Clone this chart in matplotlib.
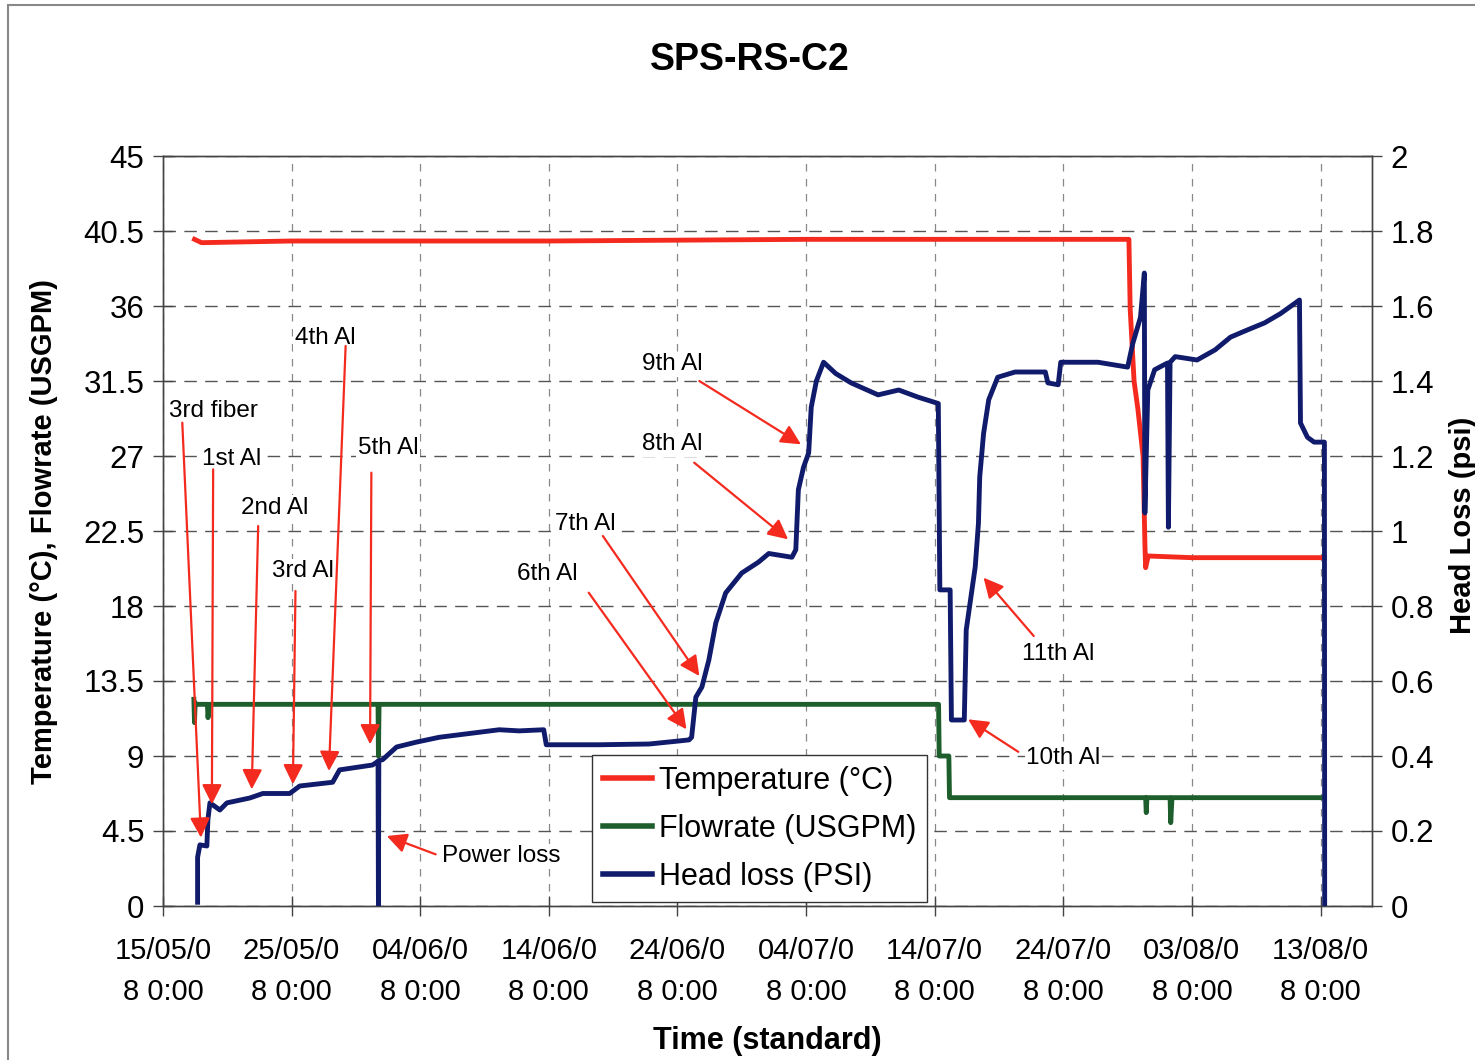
import numpy as np
import matplotlib
matplotlib.use('Agg')
import matplotlib.pyplot as plt
import matplotlib.dates as mdates
from matplotlib.ticker import FuncFormatter, FixedLocator
from matplotlib.lines import Line2D
from matplotlib.patches import Rectangle
import pandas as pd

plt.rcParams['font.family'] = ['Liberation Sans', 'DejaVu Sans']

start = pd.Timestamp('2008-05-15 00:00')

# days since 15/05/08 0:00 and values
temp_days = [2.45, 3.0, 10.0, 30.0, 50.0, 75.1, 75.2, 75.5, 75.8, 76.2, 76.35, 76.4, 76.6, 80.0, 90.3]
temp_vals = [40.0, 39.8, 39.9, 39.9, 40.0, 40.0, 35.8, 31.5, 29.8, 27.0, 21.5, 20.3, 21.0, 20.9, 20.9]

flow_days = [2.4, 2.45, 2.5, 2.55, 3.45, 3.5, 3.6, 16.72, 16.75, 16.8, 60.3, 60.35, 61.1, 61.15,
             76.4, 76.45, 76.5, 78.3, 78.35, 78.45, 90.3]
flow_vals = [12.4, 11.0, 12.2, 12.1, 12.1, 11.3, 12.1, 12.1, 9.0, 12.1, 12.1, 9.0, 9.0, 6.5,
             6.5, 5.6, 6.5, 6.5, 5.0, 6.5, 6.5]

head_days = [2.69, 2.69, 2.87, 3.41, 3.49, 3.65, 4.42, 4.97, 6.75, 7.76, 9.85, 10.63, 13.19, 13.73,
             16.29, 16.68, 16.72, 16.75, 16.78, 17.07, 18.16, 19.7, 21.49, 23.82, 26.14, 27.7, 29.6,
             29.8, 33.9, 37.8, 40.1, 40.9, 41.1, 41.43, 41.9, 42.44, 42.98, 43.75, 45.0, 46.3, 47.1,
             48.9, 49.2, 49.4, 49.8, 50.2, 50.4, 50.8, 51.36, 52.3, 53.5, 55.6, 57.2, 58.7, 60.28,
             60.4, 61.2, 61.3, 62.3, 62.45, 63.15, 63.4, 63.5, 63.8, 64.2, 64.9, 66.25, 68.6, 68.8,
             69.6, 69.8, 72.7, 75.0, 75.4, 76.0, 76.3, 76.34, 76.57, 77.1, 78.1, 78.17, 78.3, 78.7,
             80.4, 81.8, 83.0, 84.3, 85.65, 86.9, 88.36, 88.44, 88.98, 89.5, 90.3, 90.32]
head_vals = [0.01, 0.13, 0.163, 0.16, 0.23, 0.275, 0.256, 0.275, 0.288, 0.30, 0.30, 0.32, 0.33, 0.363,
             0.376, 0.385, 0.385, 0.0, 0.388, 0.39, 0.424, 0.437, 0.45, 0.46, 0.47, 0.467, 0.47,
             0.43, 0.43, 0.432, 0.44, 0.443, 0.45, 0.557, 0.584, 0.656, 0.755, 0.835, 0.888, 0.917, 0.94,
             0.93, 0.95, 1.11, 1.17, 1.208, 1.33, 1.40, 1.45, 1.42, 1.395, 1.363, 1.376, 1.357, 1.34,
             0.843, 0.843, 0.496, 0.496, 0.736, 0.904, 1.02, 1.144, 1.26, 1.35, 1.41, 1.424, 1.424, 1.395,
             1.39, 1.45, 1.45, 1.437, 1.50, 1.57, 1.688, 1.048, 1.376, 1.43, 1.448, 1.01, 1.45, 1.465,
             1.456, 1.483, 1.517, 1.536, 1.555, 1.58, 1.616, 1.288, 1.25, 1.237, 1.237, 0.0]

# annotations: label, text pos (day, left-axis value), arrow start, arrow tip
notes = [
    ('3rd fiber', (3.9, 29.7), (1.5, 29.0), (2.95, 4.1)),
    ('1st Al', (5.3, 26.8), (3.9, 26.2), (3.8, 6.1)),
    ('2nd Al', (8.7, 23.9), (7.4, 22.8), (6.9, 7.0)),
    ('3rd Al', (10.9, 20.1), (10.3, 18.9), (10.1, 7.3)),
    ('4th Al', (12.6, 34.1), (14.2, 33.6), (12.9, 8.1)),
    ('5th Al', (17.5, 27.5), (16.2, 26.0), (16.1, 9.7)),
    ('Power loss', (26.3, 3.0), (21.2, 3.1), (17.4, 4.2)),
    ('6th Al', (29.9, 19.9), (33.1, 18.8), (40.7, 10.6)),
    ('7th Al', (32.8, 22.9), (34.2, 22.2), (41.7, 13.8)),
    ('8th Al', (39.6, 27.7), (41.3, 26.6), (48.6, 22.0)),
    ('9th Al', (39.6, 32.5), (41.7, 31.5), (49.6, 27.7)),
    ('11th Al', (69.6, 15.1), (67.7, 16.2), (63.8, 19.7)),
    ('10th Al', (70.0, 8.9), (66.5, 9.25), (62.6, 11.2)),
]

left_ticks = [0, 4.5, 9, 13.5, 18, 22.5, 27, 31.5, 36, 40.5, 45]
right_ticks = [0, 0.2, 0.4, 0.6, 0.8, 1.0, 1.2, 1.4, 1.6, 1.8, 2.0]
tick_days = [0, 10, 20, 30, 40, 50, 60, 70, 80, 90]


def to_time(days):
    return start + pd.to_timedelta(np.asarray(days, dtype=float), unit='D')


def to_num(day):
    return mdates.date2num(start + pd.Timedelta(days=day))


RED = '#f42a1f'
GREEN = '#1d5e2c'
NAVY = '#101b6b'

fig = plt.figure(figsize=(14.75, 10.6), dpi=100)
ax = fig.add_axes([163 / 1475, 1 - 906 / 1060, (1372 - 163) / 1475, 750 / 1060])
ax2 = ax.twinx()

ax.plot(to_time(temp_days), temp_vals, color=RED, lw=3.5, zorder=3)
ax.plot(to_time(flow_days), flow_vals, color=GREEN, lw=3.5, zorder=3)
ax2.plot(to_time(head_days), head_vals, color=NAVY, lw=3.5, zorder=3)

ax.set_xlim(start, start + pd.Timedelta(days=94))
ax.set_ylim(0, 45)
ax2.set_ylim(0, 2)

ax.xaxis.set_major_locator(FixedLocator(mdates.date2num(to_time(tick_days))))


def date_label(v, pos):
    d = mdates.num2date(v)
    s = f'{d:%d/%m/%y} {d.hour}:{d:%M}'
    return s[:7] + '\n' + s[7:]


ax.xaxis.set_major_formatter(FuncFormatter(date_label))
ax.set_yticks(left_ticks)
ax.yaxis.set_major_formatter(FuncFormatter(lambda v, p: f'{v:g}'))
ax2.set_yticks(right_ticks)
ax2.yaxis.set_major_formatter(FuncFormatter(lambda v, p: f'{v:g}'))

ax.grid(axis='y', color='#555555', lw=1.0, ls=(0, (9, 6)))
ax.grid(axis='x', color='#888888', lw=0.9, ls=(0, (6, 6)))
ax.set_axisbelow(True)

for a in (ax, ax2):
    for s in a.spines.values():
        s.set_color('#444444')
        s.set_linewidth(1.0)
    a.tick_params(direction='inout', length=15, width=1.0, color='#444444', labelsize=22.5, pad=6)
ax.tick_params(axis='x', labelsize=21, pad=15)
for lab in ax.get_xticklabels():
    lab.set_linespacing(1.6)

ax.set_xlabel('Time (standard)', fontsize=22, fontweight='bold', labelpad=14)
ax.set_ylabel('Temperature (°C), Flowrate (USGPM)', fontsize=21, fontweight='bold', labelpad=18)
fig.text(1463 / 1475, 1 - 525 / 1060, 'Head Loss (psi)', rotation=90, ha='center', va='center',
         fontsize=21, fontweight='bold')
fig.text(750 / 1475, 1 - 60 / 1060, 'SPS-RS-C2', ha='center', va='center',
         fontsize=27, fontweight='bold')

for label, tpos, astart, tip in notes:
    ax2.text(to_num(tpos[0]), tpos[1], label, transform=ax.transData, fontsize=17.5,
             ha='center', va='center', zorder=6,
             bbox=dict(facecolor='white', edgecolor='none', pad=1))
    ax2.annotate('', xy=(to_num(tip[0]), tip[1]), xycoords=ax.transData,
                 xytext=(to_num(astart[0]), astart[1]), textcoords=ax.transData,
                 arrowprops=dict(arrowstyle='-|>', color=RED, lw=1.6, mutation_scale=30,
                                 shrinkA=0, shrinkB=0), zorder=6)

handles = [Line2D([], [], color=RED, lw=4), Line2D([], [], color=GREEN, lw=4),
           Line2D([], [], color=NAVY, lw=4)]
leg = ax2.legend(handles, ['Temperature (°C)', 'Flowrate (USGPM)', 'Head loss (PSI)'],
                 loc='lower left', bbox_to_anchor=(0.355, 0.005), fontsize=22, frameon=True,
                 fancybox=False, edgecolor='#333333', framealpha=1, handlelength=1.6,
                 handletextpad=0.25, borderpad=0.35, labelspacing=0.58, borderaxespad=0)
leg.get_frame().set_linewidth(1.0)
leg.set_zorder(10)

fig.patches.append(Rectangle((8 / 1475, -0.01), 1.5, 1 - 5 / 1060 + 0.01, transform=fig.transFigure,
                             fill=False, edgecolor='#888888', lw=1.5))

fig.savefig('out.png', dpi=100)
